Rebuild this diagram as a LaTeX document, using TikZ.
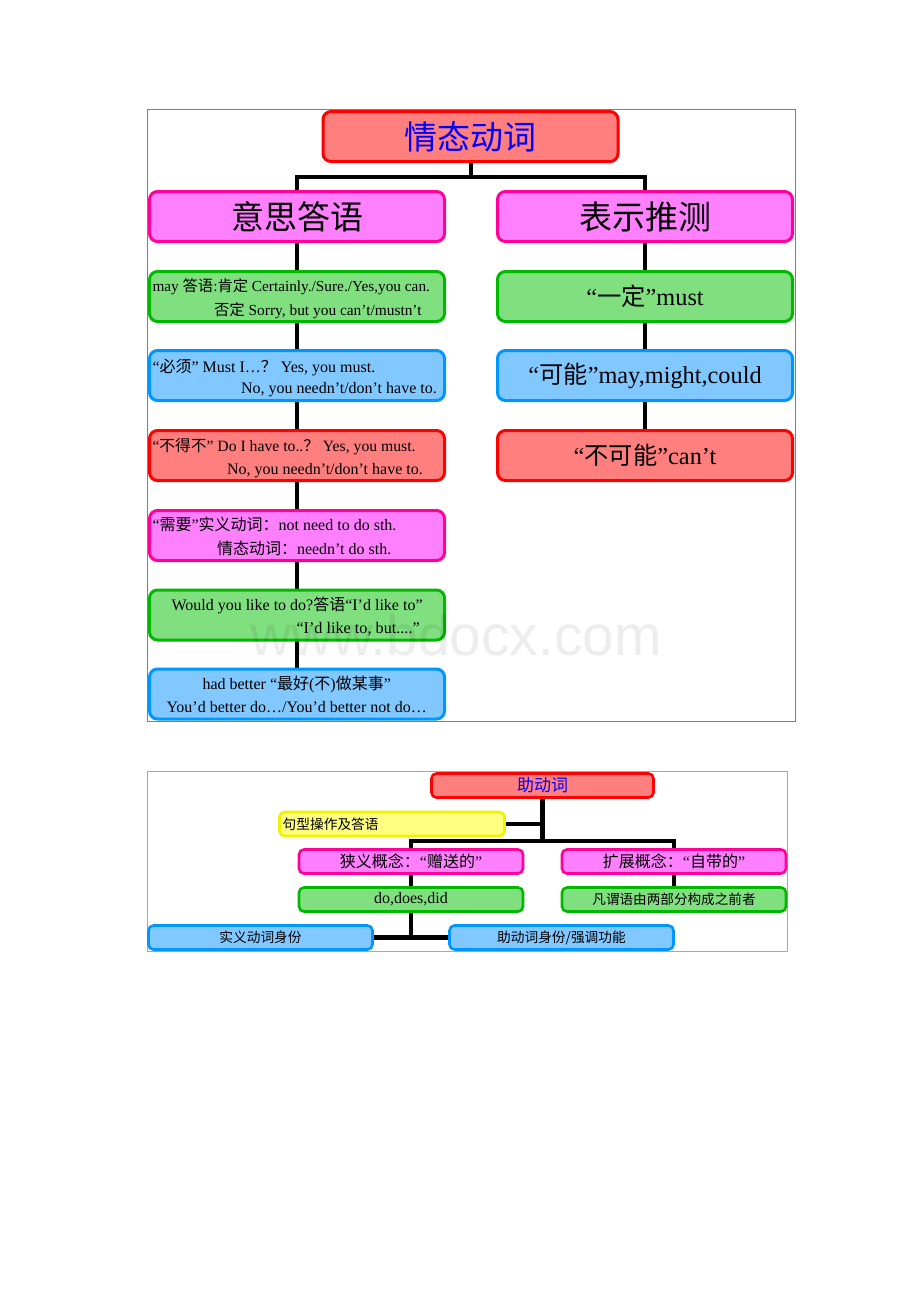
\documentclass[tikz,border=0pt]{standalone}
\usepackage{fontspec}
\setmainfont{Liberation Serif}
\newfontfamily\cjk{Noto Sans CJK SC}
\newfontfamily\wmfont{Liberation Sans}
\newcommand\zhs[1]{{\cjk #1}}
\newcommand\fsz[1]{\fontsize{#1}{#1}\selectfont}
\usetikzlibrary{backgrounds}
\definecolor{redF}{HTML}{FF7F7F}
\definecolor{redD}{HTML}{FF0000}
\definecolor{magF}{HTML}{FF80FF}
\definecolor{magD}{HTML}{FF0099}
\definecolor{greF}{HTML}{80E080}
\definecolor{greD}{HTML}{00B800}
\definecolor{bluF}{HTML}{80C8FF}
\definecolor{bluD}{HTML}{0096FF}
\definecolor{yelF}{HTML}{FFFF80}
\definecolor{yelD}{HTML}{F2F200}
\definecolor{frameTop}{HTML}{FF4A4A}
\definecolor{frameBot}{HTML}{FF9040}
\definecolor{titleBlue}{HTML}{0000FF}
\begin{document}
\begin{tikzpicture}[x=1pt,y=-1pt,
  box/.style={line width=3pt, rounded corners=8pt, inner sep=0pt, outer sep=0pt},
  sbox/.style={line width=2.6pt, rounded corners=5pt, inner sep=0pt, outer sep=0pt},
  redbox/.style={fill=redF, draw=redD},
  magbox/.style={fill=magF, draw=magD},
  grebox/.style={fill=greF, draw=greD},
  blubox/.style={fill=bluF, draw=bluD},
  yelbox/.style={fill=yelF, draw=yelD},
  big/.style={box, minimum width=295pt, minimum height=50pt},
  small/.style={sbox, minimum width=224pt, minimum height=24pt},
  conn/.style={draw=black, line width=4pt},
  conn2/.style={draw=black, line width=4.5pt},
  txt/.style={anchor=base west, inner sep=0pt, outer sep=0pt, font=\fsz{16}},
]
\useasboundingbox (0,0) rectangle (920,1302);

% ---------- top diagram ----------
\node[big, redbox, font=\cjk\fsz{33}, text=titleBlue] (T) at (470.5,136.5) {情态动词};
\node[big, magbox, font=\cjk\fsz{33}] (A) at (297,216.5) {意思答语};
\node[big, magbox, font=\cjk\fsz{33}] (B) at (645,216.5) {表示推测};

\node[big, grebox] (L1) at (297,296.5) {};
\node[big, blubox] (L2) at (297,375.5) {};
\node[big, redbox] (L3) at (297,455.5) {};
\node[big, magbox] (L4) at (297,535.5) {};
\node[big, grebox] (L5) at (297,615) {};
\node[big, blubox] (L6) at (297,694) {};

\node[txt, font=\fsz{15.3}] (L1a) at (152.5,291.5) {may \zhs{答语}:\zhs{肯定} Certainly./Sure./Yes,you can.};
\node[txt, font=\fsz{15.4}] (L1b) at (214,315) {\zhs{否定} Sorry, but you can’t/mustn’t};
\node[txt] (L2a) at (152.5,372) {“\zhs{必须}” Must I…\zhs{？} Yes, you must.};
\node[txt] (L2b) at (241,393) {No, you needn’t/don’t have to.};
\node[txt, font=\fsz{15.7}] (L3a) at (152.5,451.5) {“\zhs{不得不}” Do I have to..\zhs{？} Yes, you must.};
\node[txt] (L3b) at (227,474) {No, you needn’t/don’t have to.};
\node[txt] (L4a) at (152.5,530.5) {“\zhs{需要}”\zhs{实义动词：}not need to do sth.};
\node[txt] (L4b) at (217,554) {\zhs{情态动词：}needn’t do sth.};
\node[txt] (L5a) at (171.5,610) {Would you like to do?\zhs{答语}“I’d like to”};
\node[txt, font=\fsz{16.2}] (L5b) at (296.5,633.5) {“I’d like to, but....”};
\node[txt] (L6a) at (202.5,689.5) {had better “\zhs{最好}(\zhs{不})\zhs{做某事}”};
\node[txt] (L6b) at (166.5,712.5) {You’d better do…/You’d better not do…};

\node[big, grebox, font=\fsz{24.3}] (R1) at (645,296.5) {“\zhs{一定}”must};
\node[big, blubox, font=\fsz{24.3}] (R2) at (645,375.5) {“\zhs{可能}”may,might,could};
\node[big, redbox, font=\fsz{24.3}] (R3) at (645,455.5) {“\zhs{不可能}”can’t};

% ---------- bottom diagram ----------
\node[small, redbox, minimum width=222pt, font=\cjk\fsz{17}, text=titleBlue] (H) at (542.5,785.5) {助动词};
\node[small, yelbox, minimum width=225pt] (Y) at (392,824) {};
\node[anchor=west, inner sep=0pt, font=\cjk\fsz{13.7}] (Yt) at (282.5,824) {句型操作及答语};
\node[small, magbox, font=\fsz{16}] (M1) at (411,861.5) {\zhs{狭义概念：}“\zhs{赠送的}”};
\node[small, magbox, font=\fsz{16}] (M2) at (674,861.5) {\zhs{扩展概念：}“\zhs{自带的}”};
\node[small, grebox, font=\fsz{16}] (G1) at (411,899.5) {do,does,did};
\node[small, grebox, font=\cjk\fsz{13.6}] (G2) at (674,899.5) {凡谓语由两部分构成之前者};
\node[small, blubox, font=\cjk\fsz{13.7}] (B1) at (260.5,937.5) {实义动词身份};
\node[small, blubox, font=\cjk\fsz{13.7}] (B2) at (561.5,937.5) {助动词身份/强调功能};

% watermark
\node[anchor=base west, inner sep=0pt, font=\wmfont\fsz{57}, text=black, opacity=0.07] (wm) at (250,655) {www.bdocx.com};

\begin{pgfonlayer}{background}
  \draw[frameTop, line width=1pt] (147,109) rectangle (795,721);
  \draw[frameBot, line width=1pt] (147,771.5) rectangle (787,951);
  % top connectors
  \coordinate (jt) at (470.5,177);
  \draw[conn] (T.south) -- (jt);
  \draw[conn] (A.north) |- (jt) -| (B.north);
  \draw[conn] (A.south) -- (L1.north);
  \draw[conn] (L1.south) -- (L2.north);
  \draw[conn] (L2.south) -- (L3.north);
  \draw[conn] (L3.south) -- (L4.north);
  \draw[conn] (L4.south) -- (L5.north);
  \draw[conn] (L5.south) -- (L6.north);
  \draw[conn] (B.south) -- (R1.north);
  \draw[conn] (R1.south) -- (R2.north);
  \draw[conn] (R2.south) -- (R3.north);
  % bottom connectors
  \coordinate (jy) at (542.5,824);
  \coordinate (jb) at (542.5,841);
  \draw[conn2] (H.south) -- (jb);
  \draw[conn2] (jy) -- (Y.east);
  \draw[conn2] (M1.north) |- (jb) -| (M2.north);
  \draw[conn2] (M1.south) -- (G1.north);
  \draw[conn2] (M2.south) -- (G2.north);
  \coordinate (jd) at (G1.south |- B1.east);
  \draw[conn2] (G1.south) -- (jd);
  \draw[conn2] (B1.east) -- (B2.west);
\end{pgfonlayer}
\end{tikzpicture}
\end{document}
